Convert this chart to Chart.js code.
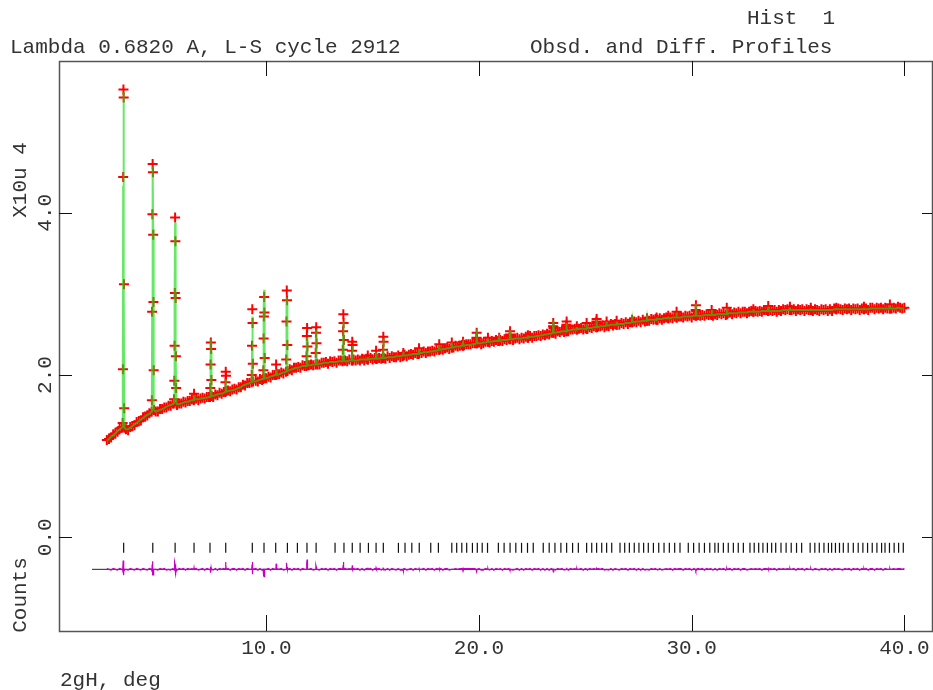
<!DOCTYPE html>
<html>
<head>
<meta charset="utf-8">
<title>Obsd. and Diff. Profiles</title>
<script src="https://cdn.jsdelivr.net/npm/chart.js@4.4.0/dist/chart.umd.min.js"></script>
<style>
  html, body { margin: 0; padding: 0; background: #fff; }
  #wrap { width: 933px; height: 690px; }
</style>
</head>
<body>
<div id="wrap"><canvas id="plot" width="933" height="690"></canvas></div>
<script>
// --- Données (intensités en unités de 10^4) ---
const bgStart = 2.5;   // premier point du profil, 2theta
const bgStep = 0.1;    // pas du profil

// profil observé hors pics
const bgObs = [
  1.20,1.21,1.23,1.27,1.28,1.30,1.34,1.35,1.36,1.33,
  1.32,1.36,1.37,1.38,1.42,1.43,1.44,1.48,1.49,1.50,
  1.53,1.54,1.56,1.55,1.55,1.58,1.58,1.60,1.60,1.62,
  1.62,1.65,1.65,1.63,1.65,1.65,1.67,1.66,1.68,1.68,
  1.70,1.69,1.71,1.69,1.71,1.72,1.71,1.73,1.73,1.74,
  1.73,1.76,1.75,1.78,1.77,1.79,1.79,1.81,1.80,1.82,
  1.83,1.82,1.85,1.85,1.88,1.87,1.90,1.90,1.92,1.91,
  1.93,1.92,1.95,1.94,1.96,1.96,1.98,1.97,2.00,2.00,
  2.01,2.01,2.03,2.02,2.05,2.05,2.07,2.06,2.09,2.09,
  2.10,2.09,2.12,2.11,2.12,2.12,2.13,2.12,2.14,2.13,
  2.13,2.15,2.15,2.16,2.14,2.17,2.16,2.17,2.15,2.18,
  2.18,2.16,2.18,2.17,2.19,2.17,2.19,2.18,2.19,2.18,
  2.20,2.18,2.20,2.19,2.21,2.19,2.21,2.20,2.21,2.20,
  2.22,2.20,2.23,2.21,2.23,2.22,2.22,2.24,2.22,2.23,
  2.25,2.23,2.25,2.26,2.25,2.27,2.26,2.28,2.27,2.29,
  2.27,2.29,2.29,2.30,2.29,2.31,2.31,2.32,2.31,2.33,
  2.34,2.32,2.35,2.34,2.36,2.35,2.36,2.37,2.37,2.38,
  2.38,2.38,2.39,2.39,2.39,2.40,2.38,2.39,2.41,2.40,
  2.40,2.42,2.41,2.43,2.42,2.43,2.42,2.44,2.43,2.45,
  2.45,2.43,2.45,2.46,2.44,2.46,2.45,2.47,2.46,2.48,
  2.46,2.48,2.48,2.49,2.48,2.50,2.49,2.51,2.50,2.52,
  2.53,2.51,2.54,2.53,2.55,2.53,2.55,2.54,2.56,2.56,
  2.57,2.55,2.57,2.58,2.56,2.58,2.57,2.59,2.58,2.60,
  2.58,2.60,2.60,2.61,2.59,2.62,2.60,2.63,2.61,2.63,
  2.63,2.62,2.64,2.63,2.65,2.63,2.65,2.64,2.66,2.65,
  2.67,2.65,2.68,2.66,2.68,2.67,2.69,2.68,2.69,2.68,
  2.70,2.68,2.70,2.71,2.69,2.71,2.70,2.72,2.71,2.72,
  2.72,2.71,2.73,2.72,2.73,2.71,2.74,2.72,2.74,2.73,
  2.74,2.73,2.75,2.74,2.75,2.73,2.75,2.74,2.76,2.75,
  2.76,2.74,2.76,2.77,2.75,2.77,2.76,2.78,2.76,2.78,
  2.78,2.76,2.78,2.79,2.77,2.79,2.78,2.79,2.78,2.80,
  2.80,2.78,2.80,2.79,2.80,2.78,2.80,2.79,2.81,2.80,
  2.81,2.79,2.80,2.81,2.79,2.81,2.80,2.81,2.79,2.81,
  2.80,2.81,2.79,2.81,2.80,2.79,2.81,2.80,2.81,2.79,
  2.81,2.79,2.82,2.80,2.82,2.81,2.80,2.82,2.81,2.82,
  2.80,2.82,2.81,2.82,2.80,2.82,2.81,2.82,2.80,2.83,
  2.83,2.81,2.83,2.82,2.83,2.81,2.83,2.82,2.84,2.82,
  2.83,2.82,2.84,2.83,2.82,2.83
];

// profil calculé hors pics (même grille)
const bgCalc = [
  1.19,1.21,1.24,1.26,1.28,1.31,1.33,1.35,1.35,1.33,
  1.33,1.35,1.37,1.39,1.41,1.43,1.45,1.47,1.49,1.51,
  1.52,1.54,1.55,1.55,1.56,1.57,1.58,1.59,1.61,1.62,
  1.63,1.64,1.65,1.64,1.64,1.65,1.66,1.67,1.67,1.68,
  1.69,1.69,1.70,1.70,1.71,1.71,1.72,1.72,1.73,1.73,
  1.74,1.75,1.76,1.77,1.77,1.78,1.79,1.80,1.81,1.81,
  1.82,1.83,1.84,1.85,1.87,1.88,1.89,1.90,1.91,1.91,
  1.92,1.93,1.94,1.95,1.95,1.96,1.97,1.98,1.99,2.00,
  2.00,2.01,2.02,2.03,2.04,2.05,2.06,2.07,2.08,2.09,
  2.09,2.10,2.11,2.11,2.11,2.12,2.12,2.13,2.13,2.13,
  2.14,2.14,2.15,2.15,2.15,2.16,2.16,2.16,2.16,2.17,
  2.17,2.17,2.17,2.17,2.18,2.18,2.18,2.18,2.18,2.19,
  2.19,2.19,2.19,2.19,2.20,2.20,2.20,2.20,2.20,2.21,
  2.21,2.21,2.22,2.22,2.22,2.22,2.23,2.23,2.23,2.24,
  2.24,2.24,2.25,2.25,2.26,2.26,2.26,2.27,2.27,2.28,
  2.28,2.28,2.29,2.29,2.30,2.30,2.31,2.31,2.32,2.32,
  2.33,2.33,2.34,2.34,2.35,2.35,2.35,2.36,2.36,2.37,
  2.37,2.37,2.38,2.38,2.39,2.39,2.39,2.40,2.40,2.41,
  2.41,2.41,2.42,2.42,2.42,2.42,2.43,2.43,2.43,2.44,
  2.44,2.44,2.45,2.45,2.45,2.45,2.46,2.46,2.46,2.47,
  2.47,2.47,2.48,2.48,2.49,2.49,2.50,2.50,2.51,2.51,
  2.52,2.52,2.53,2.53,2.54,2.54,2.54,2.55,2.55,2.56,
  2.56,2.56,2.57,2.57,2.57,2.57,2.58,2.58,2.58,2.59,
  2.59,2.59,2.60,2.60,2.60,2.61,2.61,2.62,2.62,2.62,
  2.62,2.63,2.63,2.63,2.64,2.64,2.64,2.65,2.65,2.66,
  2.66,2.66,2.67,2.67,2.67,2.68,2.68,2.68,2.68,2.69,
  2.69,2.69,2.70,2.70,2.70,2.70,2.71,2.71,2.71,2.71,
  2.71,2.72,2.72,2.72,2.72,2.72,2.73,2.73,2.73,2.73,
  2.73,2.74,2.74,2.74,2.74,2.74,2.74,2.75,2.75,2.75,
  2.75,2.75,2.76,2.76,2.76,2.76,2.76,2.77,2.77,2.77,
  2.77,2.77,2.78,2.78,2.78,2.78,2.78,2.78,2.79,2.79,
  2.79,2.79,2.79,2.79,2.79,2.79,2.79,2.79,2.80,2.80,
  2.80,2.80,2.80,2.80,2.80,2.80,2.80,2.80,2.80,2.80,
  2.80,2.80,2.80,2.80,2.80,2.80,2.80,2.80,2.80,2.80,
  2.80,2.80,2.81,2.81,2.81,2.81,2.81,2.81,2.81,2.81,
  2.81,2.81,2.81,2.81,2.81,2.81,2.81,2.81,2.81,2.82,
  2.82,2.82,2.82,2.82,2.82,2.82,2.82,2.82,2.82,2.82,
  2.82,2.82,2.83,2.82,2.82,2.82
];

// pics de Bragg : position, puis points observés / calculés autour du sommet
const peakStep = 0.012;
const peakPos = [3.28, 4.66, 5.71, 6.60, 7.39, 8.09, 9.34, 9.89, 10.46, 10.96,
  11.91, 12.34, 13.62, 14.04, 14.77, 15.16, 15.50, 16.44, 17.18, 18.13,
  18.72, 19.25, 19.89, 20.42, 20.95, 21.46, 22.30, 23.49, 24.12, 24.60,
  25.06, 25.53, 26.00, 26.47, 27.20, 27.90, 28.35, 28.90, 29.29, 30.20,
  30.94, 31.65, 32.90, 33.60, 34.62, 35.60, 36.80, 38.10, 39.32];
const peakObs = [
  [1.36,1.41,2.07,4.44,5.52,5.42,3.12,1.59,1.35],
  [1.55,1.69,2.78,3.98,4.60,4.50,3.73,2.90,2.06,1.57],
  [1.65,1.70,1.93,2.36,3.01,3.94,3.65,2.95,2.23,1.84,1.65],
  [1.69,1.77,1.70],
  [1.73,1.84,2.13,2.40,2.32,1.94,1.74],
  [1.79,1.91,2.04,1.99,1.80],
  [1.91,2.00,2.36,2.81,2.64,2.14,1.92],
  [1.95,2.06,2.45,2.72,2.96,2.77,2.21,1.96],
  [2.00,2.13,2.01],
  [2.04,2.19,2.66,3.04,2.92,2.37,2.05],
  [2.11,2.23,2.48,2.58,2.35,2.12],
  [2.13,2.27,2.52,2.59,2.39,2.14],
  [2.17,2.31,2.54,2.75,2.64,2.43,2.18],
  [2.18,2.30,2.41,2.37,2.18],
  [2.19,2.24,2.19],
  [2.20,2.30,2.20],
  [2.21,2.31,2.47,2.41,2.21],
  [2.24,2.27,2.24],
  [2.26,2.33,2.27],
  [2.31,2.38,2.31],
  [2.34,2.40,2.34],
  [2.36,2.41,2.36],
  [2.39,2.46,2.52,2.45,2.39],
  [2.41,2.46,2.41],
  [2.42,2.46,2.42],
  [2.44,2.50,2.54,2.48,2.44],
  [2.46,2.49,2.46],
  [2.52,2.60,2.64,2.58,2.52],
  [2.54,2.62,2.66,2.60,2.54],
  [2.56,2.60,2.56],
  [2.57,2.64,2.57],
  [2.59,2.66,2.69,2.64,2.59],
  [2.61,2.66,2.61],
  [2.62,2.67,2.62],
  [2.65,2.68,2.65],
  [2.67,2.70,2.67],
  [2.68,2.71,2.68],
  [2.70,2.73,2.70],
  [2.71,2.78,2.71],
  [2.73,2.80,2.86,2.79,2.73],
  [2.74,2.80,2.74],
  [2.75,2.83,2.75],
  [2.78,2.81,2.78],
  [2.79,2.85,2.79],
  [2.80,2.84,2.80],
  [2.80,2.83,2.80],
  [2.81,2.83,2.81],
  [2.81,2.84,2.81],
  [2.82,2.87,2.82]
];
const peakCalc = [
  [1.36,1.43,2.05,4.33,5.45,5.49,3.15,1.60,1.35],
  [1.55,1.72,2.72,3.88,4.56,4.57,3.80,2.95,2.10,1.57],
  [1.65,1.71,1.90,2.30,2.92,3.88,3.72,3.02,2.28,1.86,1.65],
  [1.69,1.75,1.70],
  [1.73,1.83,2.10,2.44,2.30,1.95,1.74],
  [1.79,1.88,1.95,1.93,1.80],
  [1.91,1.98,2.30,2.72,2.70,2.12,1.92],
  [1.95,2.08,2.50,2.80,3.05,2.86,2.25,1.96],
  [2.00,2.06,2.01],
  [2.04,2.17,2.60,2.96,2.90,2.34,2.05],
  [2.11,2.20,2.40,2.46,2.30,2.12],
  [2.13,2.25,2.47,2.56,2.36,2.14],
  [2.17,2.29,2.50,2.66,2.60,2.40,2.18],
  [2.18,2.28,2.36,2.33,2.18],
  [2.19,2.22,2.19],
  [2.20,2.28,2.20],
  [2.21,2.30,2.45,2.40,2.21],
  [2.24,2.29,2.24],
  [2.26,2.32,2.27],
  [2.31,2.37,2.31],
  [2.34,2.40,2.34],
  [2.36,2.40,2.36],
  [2.39,2.48,2.56,2.47,2.39],
  [2.41,2.45,2.41],
  [2.42,2.46,2.42],
  [2.44,2.51,2.55,2.49,2.44],
  [2.46,2.49,2.46],
  [2.52,2.61,2.67,2.59,2.52],
  [2.54,2.61,2.64,2.59,2.54],
  [2.56,2.59,2.56],
  [2.57,2.63,2.57],
  [2.59,2.66,2.68,2.63,2.59],
  [2.61,2.66,2.61],
  [2.62,2.66,2.62],
  [2.65,2.68,2.65],
  [2.67,2.70,2.67],
  [2.68,2.71,2.68],
  [2.70,2.72,2.70],
  [2.71,2.77,2.71],
  [2.73,2.81,2.88,2.80,2.73],
  [2.74,2.80,2.74],
  [2.75,2.82,2.75],
  [2.78,2.81,2.78],
  [2.79,2.84,2.79],
  [2.80,2.83,2.80],
  [2.80,2.82,2.80],
  [2.81,2.83,2.81],
  [2.81,2.83,2.81],
  [2.82,2.86,2.82]
];

// positions des réflexions (traits verticaux)
const reflPos = [3.29, 4.66, 5.71, 6.60, 7.35, 8.09, 9.34, 9.89, 10.44, 10.99,
  11.46, 11.91, 12.34, 13.23, 13.65, 14.04, 14.41, 14.80, 15.16, 15.50,
  16.21, 16.52, 16.84, 17.19, 17.73, 18.09, 18.72, 18.95, 19.19, 19.42,
  19.69, 19.92, 20.15, 20.40,
  20.91, 21.18, 21.46, 21.73, 22.00, 22.28, 22.55,
  23.02, 23.30, 23.57, 23.85, 24.12, 24.40, 24.67,
  25.06, 25.30, 25.53, 25.77, 26.00, 26.24,
  26.63, 26.85, 27.07, 27.30, 27.52, 27.74, 27.96,
  28.20, 28.45, 28.70, 28.95, 29.20, 29.45,
  29.84, 30.09, 30.35, 30.60, 30.85, 31.09,
  31.25, 31.49, 31.72, 31.96, 32.19, 32.43,
  32.74, 32.94, 33.15, 33.35, 33.56, 33.76,
  33.95, 34.20, 34.44, 34.68, 34.93, 35.17,
  35.57, 35.79, 36.00, 36.22, 36.43,
  36.58, 36.76, 36.95, 37.13, 37.36, 37.60,
  37.83, 38.05, 38.27, 38.49, 38.71, 38.93,
  39.09, 39.30, 39.52, 39.73, 39.95];
const reflLevel = -0.13;          // hauteur des traits de réflexion
const diffBase = -0.395;          // niveau zéro de la courbe de différence
const diffZeroRange = [1.8, 40.0];

const xTicks = [10, 20, 30, 40];
const yTicks = [0, 2, 4];

// --- Assemblage du profil (fond + pics, triés en 2theta) ---
const profile = [];
bgObs.forEach((o, i) => {
  const x = bgStart + i * bgStep;
  const inPeak = peakPos.some((p, k) => Math.abs(x - p) <= (peakObs[k].length / 2) * peakStep + 0.02);
  if (!inPeak) profile.push({ x, obs: o, calc: bgCalc[i] });
});
peakPos.forEach((p, k) => {
  const n = peakObs[k].length;
  peakObs[k].forEach((o, j) => {
    profile.push({ x: p + (j - (n - 1) / 2) * peakStep, obs: o, calc: peakCalc[k][j] });
  });
});
profile.sort((a, b) => a.x - b.x);

const obsData = profile.map(p => ({ x: p.x, y: p.obs }));
const calcData = profile.map(p => ({ x: p.x, y: p.calc }));
const diffData = profile.map(p => ({ x: p.x, y: diffBase + (p.obs - p.calc) }));
const reflData = reflPos.map(v => ({ x: v, y: reflLevel }));

// --- Cadre, graduations et textes (style GSAS) ---
const FONT = '21px "Liberation Mono", "DejaVu Sans Mono", monospace';
const framePlugin = {
  id: 'gsasFrame',
  afterDraw(chart) {
    const { ctx, chartArea: a, scales: { x, y } } = chart;
    const seg = (x1, y1, x2, y2) => { ctx.beginPath(); ctx.moveTo(x1, y1); ctx.lineTo(x2, y2); ctx.stroke(); };
    ctx.save();
    ctx.strokeStyle = '#555';
    ctx.lineWidth = 1.5;
    ctx.strokeRect(a.left + 0.5, a.top + 0.5, a.right - a.left, a.bottom - a.top);

    ctx.strokeStyle = '#111';
    ctx.lineWidth = 1;
    xTicks.forEach(v => {
      const px = Math.round(x.getPixelForValue(v)) + 0.5;
      seg(px, a.top, px, a.top + 15);
      seg(px, a.bottom, px, a.bottom - 16);
    });
    yTicks.forEach(v => {
      const py = Math.round(y.getPixelForValue(v)) + 0.5;
      seg(a.left, py, a.left + 13, py);
      seg(a.right, py, a.right - 10, py);
    });

    ctx.fillStyle = '#333';
    ctx.font = FONT;
    ctx.textBaseline = 'middle';
    ctx.textAlign = 'center';
    xTicks.forEach(v => ctx.fillText(v.toFixed(1), x.getPixelForValue(v), 648));
    yTicks.forEach(v => {
      ctx.save();
      ctx.translate(45, y.getPixelForValue(v));
      ctx.rotate(-Math.PI / 2);
      ctx.fillText(v.toFixed(1), 0, 0);
      ctx.restore();
    });
    [['X10u 4', 180], ['Counts', 595]].forEach(([t, cy]) => {
      ctx.save();
      ctx.translate(20, cy);
      ctx.rotate(-Math.PI / 2);
      ctx.fillText(t, 0, 0);
      ctx.restore();
    });

    ctx.textAlign = 'left';
    ctx.fillText('Hist  1', 747, 18);
    ctx.fillText('Lambda 0.6820 A, L-S cycle 2912', 10, 47);
    ctx.fillText('Obsd. and Diff. Profiles', 530, 47);
    ctx.fillText('2gH, deg', 60, 680);
    ctx.restore();
  }
};

new Chart(document.getElementById('plot'), {
  type: 'scatter',
  data: {
    datasets: [
      {
        label: 'Calc',
        data: calcData,
        showLine: true,
        borderColor: 'rgba(20, 220, 20, 0.65)',
        borderWidth: 2,
        pointRadius: 0,
        order: 0
      },
      {
        label: 'Obs',
        data: obsData,
        showLine: false,
        pointStyle: 'cross',
        pointRadius: 5,
        pointBorderWidth: 2,
        borderColor: '#ff0000',
        backgroundColor: '#ff0000',
        order: 1
      },
      {
        label: 'Diff',
        data: diffData,
        showLine: true,
        borderColor: '#c400c4',
        borderWidth: 1.2,
        pointRadius: 0,
        order: 2
      },
      {
        label: 'Zero',
        data: diffZeroRange.map(v => ({ x: v, y: diffBase })),
        showLine: true,
        borderColor: '#222',
        borderWidth: 1,
        pointRadius: 0,
        order: 3
      },
      {
        label: 'Refl',
        data: reflData,
        showLine: false,
        pointStyle: 'line',
        rotation: 90,
        pointRadius: 5,
        pointBorderWidth: 1.2,
        borderColor: '#111',
        order: 4
      }
    ]
  },
  options: {
    responsive: false,
    animation: false,
    events: [],
    layout: { autoPadding: false, padding: { left: 59, top: 61, right: 1, bottom: 59 } },
    scales: {
      x: { type: 'linear', min: 0.25, max: 41.3, display: false },
      y: { type: 'linear', min: -1.155, max: 5.87, display: false }
    },
    plugins: { legend: { display: false }, tooltip: { enabled: false } }
  },
  plugins: [framePlugin]
});
</script>
</body>
</html>
